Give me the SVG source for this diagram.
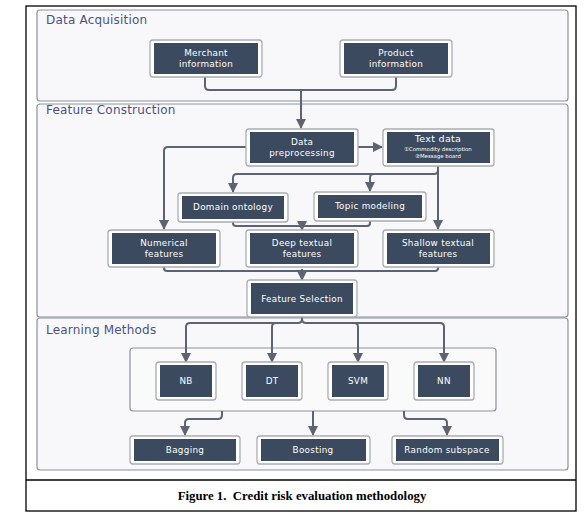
<svg xmlns="http://www.w3.org/2000/svg" width="584" height="524" viewBox="0 0 584 524">
<defs>
<style>
.panel{fill:#f8f8fa;stroke:#8c929c;stroke-width:1.2}
.plabel{font-family:"DejaVu Sans","Open Sans",sans-serif;font-size:12px;fill:#4b5283;letter-spacing:0.2px}
.outer{fill:#ffffff;stroke:#a8acb2;stroke-width:1.3}
.inner{fill:#3b4a5e}
.nt{font-family:"DejaVu Sans","Open Sans",sans-serif;font-size:8.8px;fill:#ffffff;text-anchor:middle;letter-spacing:0.3px}
.st{font-family:"DejaVu Sans","Open Sans",sans-serif;font-size:5.4px;fill:#ffffff;text-anchor:middle}
.c{fill:none;stroke:#5c6474;stroke-width:2}
.cap{font-family:"Liberation Serif","Times New Roman",serif;font-size:12.8px;font-weight:bold;fill:#000;text-anchor:middle}
</style>
<marker id="ah" markerUnits="userSpaceOnUse" markerWidth="10" markerHeight="10" viewBox="0 0 10 10" refX="9" refY="5" orient="auto">
<path d="M0,0 L10,5 L0,10 z" fill="#5c6474"/>
</marker>
</defs>
<rect x="0" y="0" width="584" height="524" fill="#ffffff"/>
<g id="frame">
<rect x="26" y="6" width="550" height="505" fill="none" stroke="#000" stroke-width="1.3"/>
<line x1="26" y1="480" x2="576" y2="480" stroke="#000" stroke-width="1.3"/>
<text class="cap" x="302" y="500">Figure 1.&#160; Credit risk evaluation methodology</text>
</g>
<g id="panel-acquisition">
<rect class="panel" x="37" y="10" width="531" height="91" rx="3"/>
<text class="plabel" x="46" y="24">Data Acquisition</text>
</g>
<g id="panel-construction">
<rect class="panel" x="37" y="104" width="531" height="213" rx="3"/>
<text class="plabel" x="46" y="114">Feature Construction</text>
</g>
<g id="panel-learning">
<rect class="panel" x="37" y="318" width="531" height="152" rx="3"/>
<text class="plabel" x="46" y="334">Learning Methods</text>
</g>
<g id="classifier-group">
<rect x="130" y="348" width="366" height="63" rx="3" fill="#fafafb" stroke="#8c929c" stroke-width="1.2"/>
</g>
<g id="connectors">
<path class="c" d="M205,77 V86 q0,4 4,4 H392 q4,0 4,-4 V77"/>
<path class="c" d="M301,90 V128" marker-end="url(#ah)"/>
<path class="c" d="M358,147 H382" marker-end="url(#ah)"/>
<path class="c" d="M246,147 H168 q-4,0 -4,4 V229" marker-end="url(#ah)"/>
<path class="c" d="M438,166 V229" marker-end="url(#ah)"/>
<path class="c" d="M438,170 q0,4 -4,4 H237 q-4,0 -4,4 V192" marker-end="url(#ah)"/>
<path class="c" d="M374,174 q-4,0 -4,4 V191" marker-end="url(#ah)"/>
<path class="c" d="M233,222 V223 q0,3 3,3 H367 q3,0 3,-3 V221"/>
<path class="c" d="M302,224 V230" marker-end="url(#ah)"/>
<path class="c" d="M164,267 V268 q0,3 3,3 H435 q3,0 3,-3 V267"/>
<path class="c" d="M302,269 V280" marker-end="url(#ah)"/>
<path class="c" d="M302,317 V319 q0,4 -4,4 H190 q-4,0 -4,4 V362" marker-end="url(#ah)"/>
<path class="c" d="M302,319 q0,4 4,4 H440 q4,0 4,4 V362" marker-end="url(#ah)"/>
<path class="c" d="M276,323 q-4,0 -4,4 V362" marker-end="url(#ah)"/>
<path class="c" d="M354,323 q4,0 4,4 V362" marker-end="url(#ah)"/>
<path class="c" d="M222,411 V415 q0,4 -4,4 H189 q-4,0 -4,4 V435" marker-end="url(#ah)"/>
<path class="c" d="M313,411 V435" marker-end="url(#ah)"/>
<path class="c" d="M404,411 V415 q0,4 4,4 H443 q4,0 4,4 V435" marker-end="url(#ah)"/>
</g>
<g id="merchant">
<rect class="outer" x="150" y="40" width="112" height="37" rx="3"/>
<rect class="inner" x="154" y="43" width="104" height="31"/>
<text class="nt" x="206" y="56">Merchant</text>
<text class="nt" x="206" y="66.5">information</text>
</g>
<g id="product">
<rect class="outer" x="340" y="40" width="112" height="37" rx="3"/>
<rect class="inner" x="344" y="43" width="104" height="31"/>
<text class="nt" x="396" y="56">Product</text>
<text class="nt" x="396" y="66.5">information</text>
</g>
<g id="preprocessing">
<rect class="outer" x="246" y="129" width="112" height="37" rx="3"/>
<rect class="inner" x="250" y="132" width="104" height="31"/>
<text class="nt" x="302" y="145">Data</text>
<text class="nt" x="302" y="155.5">preprocessing</text>
</g>
<g id="textdata">
<rect class="outer" x="383" y="129" width="111" height="37" rx="3"/>
<rect class="inner" x="387" y="132" width="103" height="31"/>
<text class="nt" x="438" y="142" style="font-size:9.5px">Text data</text>
<text class="st" x="438" y="150.5">①Commodity description</text>
<text class="st" x="438" y="158">②Message board</text>
</g>
<g id="domain">
<rect class="outer" x="178" y="193" width="110" height="29" rx="3"/>
<rect class="inner" x="182" y="196" width="102" height="23"/>
<text class="nt" x="233" y="210">Domain ontology</text>
</g>
<g id="topic">
<rect class="outer" x="314" y="192" width="112" height="29" rx="3"/>
<rect class="inner" x="318" y="195" width="104" height="23"/>
<text class="nt" x="370" y="209">Topic modeling</text>
</g>
<g id="numerical">
<rect class="outer" x="108" y="230" width="112" height="37" rx="3"/>
<rect class="inner" x="112" y="233" width="104" height="31"/>
<text class="nt" x="164" y="246">Numerical</text>
<text class="nt" x="164" y="256.5">features</text>
</g>
<g id="deep">
<rect class="outer" x="246" y="230" width="112" height="37" rx="3"/>
<rect class="inner" x="250" y="233" width="104" height="31"/>
<text class="nt" x="302" y="246">Deep textual</text>
<text class="nt" x="302" y="256.5">features</text>
</g>
<g id="shallow">
<rect class="outer" x="383" y="230" width="111" height="37" rx="3"/>
<rect class="inner" x="387" y="233" width="103" height="31"/>
<text class="nt" x="438" y="246">Shallow textual</text>
<text class="nt" x="438" y="256.5">features</text>
</g>
<g id="selection">
<rect class="outer" x="247" y="280" width="110" height="37" rx="3"/>
<rect class="inner" x="251" y="283" width="102" height="31"/>
<text class="nt" x="302" y="302">Feature Selection</text>
</g>
<g id="nb">
<rect class="outer" x="156" y="362" width="60" height="38" rx="3"/>
<rect class="inner" x="160" y="365" width="52" height="32"/>
<text class="nt" x="186" y="384">NB</text>
</g>
<g id="dt">
<rect class="outer" x="242" y="362" width="60" height="38" rx="3"/>
<rect class="inner" x="246" y="365" width="52" height="32"/>
<text class="nt" x="272" y="384">DT</text>
</g>
<g id="svm">
<rect class="outer" x="328" y="362" width="60" height="38" rx="3"/>
<rect class="inner" x="332" y="365" width="52" height="32"/>
<text class="nt" x="358" y="384">SVM</text>
</g>
<g id="nn">
<rect class="outer" x="414" y="362" width="60" height="38" rx="3"/>
<rect class="inner" x="418" y="365" width="52" height="32"/>
<text class="nt" x="444" y="384">NN</text>
</g>
<g id="bagging">
<rect class="outer" x="130" y="436" width="110" height="28" rx="3"/>
<rect class="inner" x="134" y="439" width="102" height="22"/>
<text class="nt" x="185" y="453">Bagging</text>
</g>
<g id="boosting">
<rect class="outer" x="257" y="436" width="113" height="28" rx="3"/>
<rect class="inner" x="261" y="439" width="105" height="22"/>
<text class="nt" x="313" y="453">Boosting</text>
</g>
<g id="random">
<rect class="outer" x="392" y="436" width="111" height="28" rx="3"/>
<rect class="inner" x="396" y="439" width="103" height="22"/>
<text class="nt" x="447" y="453">Random subspace</text>
</g>
</svg>
